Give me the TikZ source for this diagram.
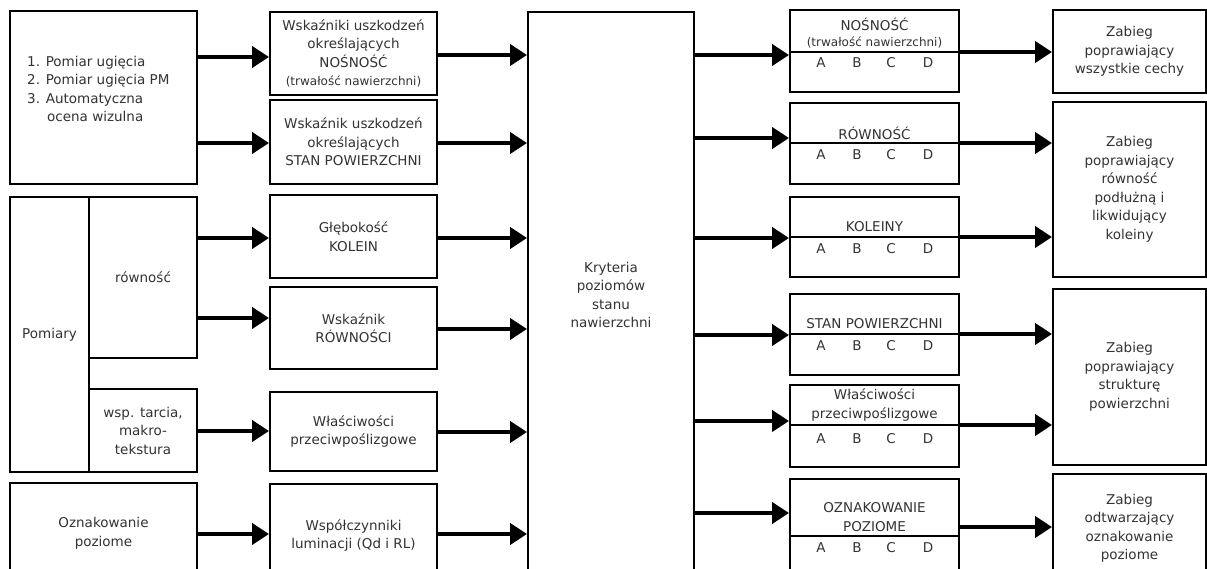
\documentclass[tikz,border=0pt]{standalone}
\usepackage{fontspec}
\setmainfont{DejaVu Sans}
\usetikzlibrary{arrows.meta}
\newcommand\mainfs{\fontsize{13.5}{18.5}\selectfont}
\newcommand\smallfs{\fontsize{12}{17}\selectfont}
\begin{document}
\begin{tikzpicture}[x=1pt,y=-1pt,
  box/.style={draw, line width=2pt, inner sep=0pt, align=center, font=\mainfs, text=black!80},
  txt/.style={inner sep=0pt, align=center, font=\mainfs, text=black!80},
  arr/.style={line width=4.5pt, -{Triangle[length=17pt,width=21pt]}},
  divline/.style={line width=2pt}]
\clip (0,0) rectangle (1207,569);
\fill[white] (0,0) rectangle (1207,569);

% ---- left column: measurement sources
\node[box, minimum width=187, minimum height=173] (src) at (103.5,97.5) {};
\node[txt, align=left, anchor=west] (srctxt) at (27,89)
  {1. Pomiar ugięcia\\2. Pomiar ugięcia PM\\3. Automatyczna\\\hspace*{20pt}ocena wizulna};
\node[box, minimum width=79, minimum height=275] (pom) at (49.5,334.5) {Pomiary};
\node[box, minimum width=108, minimum height=161] (rown) at (143,277.5) {równość};
\node[box, minimum width=108, minimum height=83] (wsp) at (143,430.5) {wsp. tarcia,\\makro-\\tekstura};
\node[box, minimum width=187, minimum height=101] (ozn) at (103.5,533.5) {Oznakowanie\\poziome};

% ---- second column: indicators
\node[box, minimum width=167, minimum height=83] (w1) at (353.5,53.5)
  {Wskaźniki uszkodzeń\\określających\\NOŚNOŚĆ\\{\smallfs(trwałość nawierzchni)}};
\node[box, minimum width=167, minimum height=84] (w2) at (353.5,142)
  {Wskaźnik uszkodzeń\\określających\\STAN POWIERZCHNI};
\node[box, minimum width=167, minimum height=83] (gleb) at (353.5,236.5) {Głębokość\\KOLEIN};
\node[box, minimum width=167, minimum height=82] (wskr) at (353.5,328) {Wskaźnik\\RÓWNOŚCI};
\node[box, minimum width=167, minimum height=79] (wlas) at (353.5,431.5) {Właściwości\\przeciwpoślizgowe};
\node[box, minimum width=167, minimum height=103] (wspc) at (353.5,535.5) {Współczynniki\\luminacji (Qd i RL)};

% ---- central criteria box
\node[box, minimum width=166, minimum height=566] (kry) at (611,295)
  {Kryteria\\poziomów\\stanu\\nawierzchni};

% ---- third column: condition classes A-D
\node[box, minimum width=169, minimum height=82] (c1) at (874.5,51) {};
\node[box, minimum width=169, minimum height=81] (c2) at (874.5,143.5) {};
\node[box, minimum width=169, minimum height=80] (c3) at (874.5,237) {};
\node[box, minimum width=169, minimum height=81] (c4) at (874.5,334.5) {};
\node[box, minimum width=169, minimum height=82] (c5) at (874.5,426) {};
\node[box, minimum width=169, minimum height=111] (c6) at (874.5,534.5) {};

\draw[divline] (c1.west |- 0,52) -- (c1.east |- 0,52);
\draw[divline] (c2.west |- 0,143) -- (c2.east |- 0,143);
\draw[divline] (c3.west |- 0,237) -- (c3.east |- 0,237);
\draw[divline] (c4.west |- 0,334) -- (c4.east |- 0,334);
\draw[divline] (c5.west |- 0,425) -- (c5.east |- 0,425);
\draw[divline] (c6.west |- 0,536) -- (c6.east |- 0,536);

\node[txt] (c1t) at (874.5,24) {NOŚNOŚĆ};
\node[txt, font=\smallfs] (c1s) at (874.5,42) {(trwałość nawierzchni)};
\node[txt] (c2t) at (874.5,133) {RÓWNOŚĆ};
\node[txt] (c3t) at (874.5,227) {KOLEINY};
\node[txt] (c4t) at (874.5,324) {STAN POWIERZCHNI};
\node[txt] (c5t) at (874.5,405) {Właściwości\\przeciwpoślizgowe};
\node[txt] (c6t) at (874.5,517) {OZNAKOWANIE\\POZIOME};

\foreach \r/\y in {1/63,2/155,3/249,4/346,5/439,6/548}{
  \foreach \l/\x in {A/821,B/857,C/891,D/928}{
    \node[txt] (cls\r\l) at (\x,\y) {\l};
  }
}

% ---- fourth column: treatments
\node[box, minimum width=153, minimum height=83] (z1) at (1129.5,51.5)
  {Zabieg\\poprawiający\\wszystkie cechy};
\node[box, minimum width=153, minimum height=175] (z2) at (1129.5,189.5)
  {Zabieg\\poprawiający\\równość\\podłużną i\\likwidujący\\koleiny};
\node[box, minimum width=153, minimum height=176] (z3) at (1129.5,377)
  {Zabieg\\poprawiający\\strukturę\\powierzchni};
\node[box, minimum width=153, minimum height=109] (z4) at (1129.5,528.5)
  {Zabieg\\odtwarzający\\oznakowanie\\poziome};

% ---- connectors: sources -> indicators
\draw[arr] (src.east |- 0,57) -- (w1.west |- 0,57);
\draw[arr] (src.east |- 0,143) -- (w2.west |- 0,143);
\draw[arr] (rown.east |- 0,238) -- (gleb.west |- 0,238);
\draw[arr] (rown.east |- 0,318) -- (wskr.west |- 0,318);
\draw[arr] (wsp.east |- 0,431) -- (wlas.west |- 0,431);
\draw[arr] (ozn.east |- 0,534) -- (wspc.west |- 0,534);

% ---- indicators -> criteria
\draw[arr] (w1.east |- 0,55) -- (kry.west |- 0,55);
\draw[arr] (w2.east |- 0,143) -- (kry.west |- 0,143);
\draw[arr] (gleb.east |- 0,238) -- (kry.west |- 0,238);
\draw[arr] (wskr.east |- 0,329) -- (kry.west |- 0,329);
\draw[arr] (wlas.east |- 0,432) -- (kry.west |- 0,432);
\draw[arr] (wspc.east |- 0,534) -- (kry.west |- 0,534);

% ---- criteria -> condition classes
\draw[arr] (kry.east |- 0,55) -- (c1.west |- 0,55);
\draw[arr] (kry.east |- 0,138) -- (c2.west |- 0,138);
\draw[arr] (kry.east |- 0,238) -- (c3.west |- 0,238);
\draw[arr] (kry.east |- 0,335) -- (c4.west |- 0,335);
\draw[arr] (kry.east |- 0,421) -- (c5.west |- 0,421);
\draw[arr] (kry.east |- 0,513) -- (c6.west |- 0,513);

% ---- condition classes -> treatments
\draw[arr] (c1.east |- 0,52) -- (z1.west |- 0,52);
\draw[arr] (c2.east |- 0,143) -- (z2.west |- 0,143);
\draw[arr] (c3.east |- 0,237) -- (z2.west |- 0,237);
\draw[arr] (c4.east |- 0,334) -- (z3.west |- 0,334);
\draw[arr] (c5.east |- 0,425) -- (z3.west |- 0,425);
\draw[arr] (c6.east |- 0,527) -- (z4.west |- 0,527);
\end{tikzpicture}
\end{document}
